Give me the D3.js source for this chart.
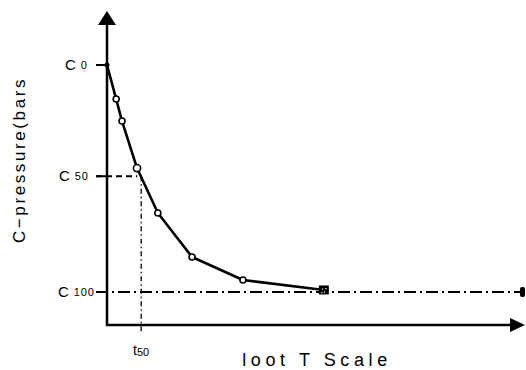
<!DOCTYPE html>
<html>
<head>
<meta charset="utf-8">
<script src="https://cdn.jsdelivr.net/npm/d3@7"></script>
<style>
  html, body { margin: 0; padding: 0; background: #fff; }
  svg { display: block; }
  text { font-family: "Liberation Sans", Arial, sans-serif; fill: #000; }
</style>
</head>
<body>
<svg id="chart" width="526" height="370"></svg>
<script>
// Pressure decay curve: time (root-T scale units) vs. pressure as % of C0
const times     = [0, 2.2, 3.6, 7.2, 12.2, 20.4, 32.6, 52.0];
const pressures = [100, 85.0, 75.3, 54.6, 34.8, 15.4, 5.3, 0.9];
const levelMain = ["C", "C", "C"];
const levelSub  = ["0", "50", "100"];
const levelValues = [100, 51, 0];
const t50 = 8.2;
const c50 = 51;
const c100 = 0;

// left edge of each level label
const levelLabelX = [65, 59, 58];

const svg = d3.select("#chart");

const x = d3.scaleLinear().domain([0, 100]).range([107, 524]);
const y = d3.scaleLinear().domain([0, 100]).range([292, 65]);

const axisY0 = y(-14.5);   // position of the time axis
const ink = "#000";

// Reference lines: C50 (dashed), t50 (dotted), C100 (dash-dot)
svg.append("line")
  .attr("x1", x(0) - 11).attr("x2", x(t50) - 4)
  .attr("y1", y(c50)).attr("y2", y(c50))
  .attr("stroke", ink).attr("stroke-width", 2)
  .attr("stroke-dasharray", "6,4");

svg.append("line")
  .attr("x1", x(t50)).attr("x2", x(t50))
  .attr("y1", y(c50)).attr("y2", axisY0 + 9)
  .attr("stroke", ink).attr("stroke-width", 1.3)
  .attr("stroke-dasharray", "5,3,1.5,3");

svg.append("line")
  .attr("x1", x(0) - 11).attr("x2", x(100))
  .attr("y1", y(c100)).attr("y2", y(c100))
  .attr("stroke", ink).attr("stroke-width", 2)
  .attr("stroke-dasharray", "12,4,2,4");

svg.append("rect")
  .attr("x", x(100) - 4).attr("y", y(c100) - 5)
  .attr("width", 5).attr("height", 10)
  .attr("rx", 2)
  .attr("fill", ink);

// Axes with arrowheads
svg.append("line")
  .attr("x1", x(0)).attr("x2", x(0))
  .attr("y1", axisY0 + 1).attr("y2", 24)
  .attr("stroke", ink).attr("stroke-width", 2.5);
svg.append("path")
  .attr("d", `M${x(0)},11 L${x(0) - 9},25 L${x(0) + 9},25 Z`)
  .attr("fill", ink);

svg.append("line")
  .attr("x1", x(0) - 1).attr("x2", 511)
  .attr("y1", axisY0).attr("y2", axisY0)
  .attr("stroke", ink).attr("stroke-width", 2.5);
svg.append("path")
  .attr("d", `M525,${axisY0} L510,${axisY0 - 7} L510,${axisY0 + 7} Z`)
  .attr("fill", ink);

// Level ticks and labels on the pressure axis
levelValues.forEach((v, i) => {
  svg.append("line")
    .attr("x1", x(0) - 11).attr("x2", x(0))
    .attr("y1", y(v)).attr("y2", y(v))
    .attr("stroke", ink).attr("stroke-width", 2);
  const t = svg.append("text")
    .attr("x", levelLabelX[i]).attr("y", y(v) + 5);
  t.append("tspan").attr("font-size", 15).text(levelMain[i]);
  t.append("tspan").attr("font-size", 11).attr("dx", 5).attr("dy", -1)
    .attr("letter-spacing", 0.8).text(levelSub[i]);
});

// Decay curve
const line = d3.line().x((d, i) => x(times[i])).y(d => y(d));
svg.append("path")
  .datum(pressures)
  .attr("d", line)
  .attr("fill", "none")
  .attr("stroke", ink)
  .attr("stroke-width", 2.6)
  .attr("stroke-linejoin", "round");

// Markers: filled start point, open circles, square end point
const pts = pressures.map((p, i) => ({ t: times[i], p, i }));
svg.selectAll("circle.pt")
  .data(pts.slice(1, pts.length - 1))
  .join("circle")
  .attr("class", "pt")
  .attr("cx", d => x(d.t)).attr("cy", d => y(d.p))
  .attr("r", d => d.i === 3 ? 3.6 : 3)
  .attr("fill", "#fff").attr("stroke", ink).attr("stroke-width", 1.6);

svg.append("circle")
  .attr("cx", x(times[0])).attr("cy", y(pressures[0]))
  .attr("r", 2.5).attr("fill", ink);

const last = pts[pts.length - 1];
const sx = x(last.t), sy = y(last.p);
svg.append("rect")
  .attr("x", sx - 5).attr("y", sy - 4.5)
  .attr("width", 10).attr("height", 9)
  .attr("fill", ink);
[[-2, -1.5], [1.5, -2], [0, 1.5], [-2.5, 2]].forEach(([dx, dy]) => {
  svg.append("rect")
    .attr("x", sx + dx).attr("y", sy + dy)
    .attr("width", 1.2).attr("height", 1.2)
    .attr("fill", "#fff");
});

// t50 label
const tl = svg.append("text")
  .attr("x", x(t50)).attr("y", 355)
  .attr("text-anchor", "middle");
tl.append("tspan").attr("font-size", 14).text("t");
tl.append("tspan").attr("font-size", 11).attr("dy", 1).text("50");

// Axis titles
svg.append("text")
  .attr("x", 317).attr("y", 366)
  .attr("text-anchor", "middle")
  .attr("font-size", 18)
  .attr("letter-spacing", 4.6)
  .text("loot T Scale");

svg.append("text")
  .attr("transform", "translate(25,160) rotate(-90)")
  .attr("text-anchor", "middle")
  .attr("font-size", 17)
  .attr("letter-spacing", 2.6)
  .text("C−pressure(bars");
</script>
</body>
</html>
